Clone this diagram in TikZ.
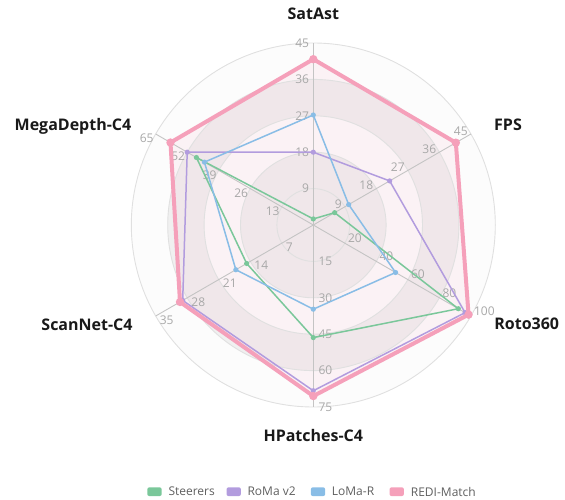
\documentclass[tikz,border=0pt]{standalone}
\usepackage{fontspec}
\setmainfont{Open Sans}
\definecolor{steercol}{RGB}{122,199,154}
\definecolor{romacol}{RGB}{178,156,222}
\definecolor{lomacol}{RGB}{137,189,230}
\definecolor{redicol}{RGB}{245,160,186}
\definecolor{bandlight}{RGB}{252,252,252}
\definecolor{banddark}{RGB}{240,240,240}
\definecolor{gridcol}{RGB}{224,224,224}
\definecolor{axiscol}{RGB}{196,196,196}
\definecolor{tickcol}{RGB}{168,168,168}
\definecolor{legtext}{RGB}{95,95,95}
\definecolor{namecol}{RGB}{25,25,25}
\tikzset{
  gridline/.style={draw=gridcol, line width=0.9pt},
  axisline/.style={draw=axiscol, line width=0.9pt},
  ticklabel/.style={inner sep=0pt, text=tickcol, font=\fontsize{12}{12}\selectfont},
  axisname/.style={inner sep=0pt, anchor=base, text=namecol, font=\fontsize{16}{16}\selectfont\bfseries},
  thinseries/.style={line width=1.5pt, line join=round},
  rediseries/.style={draw=redicol, line width=4pt, line join=round},
  legbox/.style={rounded corners=2pt, minimum width=14.4pt, minimum height=8.7pt, inner sep=0pt},
  legtxt/.style={inner sep=0pt, anchor=west, text=legtext, font=\fontsize{12}{12}\selectfont}
}
\begin{document}
\begin{tikzpicture}[x=1pt,y=1pt]
\useasboundingbox (0,0) rectangle (565,499);
\coordinate (C) at (313.3,274);
\begin{scope}[shift={(C)}]
  % split areas
  \fill[bandlight] (0,0) circle (182);
  \fill[banddark, even odd rule] (0,0) circle (145.6) (0,0) circle (109.2);
  \fill[banddark] (0,0) circle (72.8);
  % data points
  \coordinate (s1) at (90:{1.5/45*182});
  \coordinate (s2) at (30:{6.1/45*182});
  \coordinate (s3) at (-30:{92/100*182});
  \coordinate (s4) at (-90:{46.4/75*182});
  \coordinate (s5) at (210:{14.8/35*182});
  \coordinate (s6) at (150:{48.2/65*182});
  \coordinate (m1) at (90:{18/45*182});
  \coordinate (m2) at (30:{21.8/45*182});
  \coordinate (m3) at (-30:{96.3/100*182});
  \coordinate (m4) at (-90:{68.3/75*182});
  \coordinate (m5) at (210:{29.0/35*182});
  \coordinate (m6) at (150:{52/65*182});
  \coordinate (l1) at (90:{27.2/45*182});
  \coordinate (l2) at (30:{10.1/45*182});
  \coordinate (l3) at (-30:{52.2/100*182});
  \coordinate (l4) at (-90:{34.7/75*182});
  \coordinate (l5) at (210:{17.2/35*182});
  \coordinate (l6) at (150:{44.9/65*182});
  \coordinate (r1) at (90:{41/45*182});
  \coordinate (r2) at (30:{40.7/45*182});
  \coordinate (r3) at (-30:{98.5/100*182});
  \coordinate (r4) at (-90:{70.5/75*182});
  \coordinate (r5) at (210:{29.6/35*182});
  \coordinate (r6) at (150:{58.9/65*182});
  % REDI-Match area
  \fill[redicol, opacity=0.1] (r1)--(r2)--(r3)--(r4)--(r5)--(r6)--cycle;
  % grid
  \foreach \k in {1,...,5} \draw[gridline] (0,0) circle ({36.4*\k});
  \foreach \a in {90,30,-30,-90,210,150} \draw[axisline] (0,0) -- (\a:182);
  % tick labels
  \foreach \v [count=\k] in {9,18,27,36,45}
    \node[ticklabel, anchor=east, xshift=-4pt] (ta\k) at (90:{36.4*\k}) {\v};
  \foreach \v [count=\k] in {9,18,27,36,45}
    \node[ticklabel, anchor=east, xshift=-3pt, yshift=3pt] (tb\k) at (30:{36.4*\k}) {\v};
  \foreach \v [count=\k] in {20,40,60,80,100}
    \node[ticklabel, anchor=west, xshift=3pt, yshift=5pt] (tc\k) at (-30:{36.4*\k}) {\v};
  \foreach \v [count=\k] in {15,30,45,60,75}
    \node[ticklabel, anchor=west, xshift=5pt] (td\k) at (-90:{36.4*\k}) {\v};
  \foreach \v [count=\k] in {7,14,21,28,35}
    \node[ticklabel, anchor=west, xshift=4pt, yshift=-4pt] (te\k) at (210:{36.4*\k}) {\v};
  \foreach \v [count=\k] in {13,26,39,52,65}
    \node[ticklabel, anchor=east, xshift=-2pt, yshift=-4.5pt] (tf\k) at (150:{36.4*\k}) {\v};
  % series
  \draw[thinseries, draw=steercol] (s1)--(s2)--(s3)--(s4)--(s5)--(s6)--cycle;
  \foreach \p in {s1,s2,s3,s4,s5,s6} \fill[steercol] (\p) circle (2.6);
  \draw[thinseries, draw=romacol] (m1)--(m2)--(m3)--(m4)--(m5)--(m6)--cycle;
  \foreach \p in {m1,m2,m3,m4,m5,m6} \fill[romacol] (\p) circle (2.6);
  \draw[thinseries, draw=lomacol] (l1)--(l2)--(l3)--(l4)--(l5)--(l6)--cycle;
  \foreach \p in {l1,l2,l3,l4,l5,l6} \fill[lomacol] (\p) circle (2.6);
  \draw[rediseries] (r1)--(r2)--(r3)--(r4)--(r5)--(r6)--cycle;
  \foreach \p in {r1,r2,r3,r4,r5,r6} \fill[redicol] (\p) circle (4.2);
\end{scope}
% axis names
\node[axisname] (nsat) at (313.3,479) {SatAst};
\node[axisname] (nfps) at (508,368.3) {FPS};
\node[axisname] (nroto) at (526.7,169.7) {Roto360};
\node[axisname] (nhp) at (313.3,57.3) {HPatches-C4};
\node[axisname] (nscan) at (87,169) {ScanNet-C4};
\node[axisname] (nmega) at (73,368.3) {MegaDepth-C4};
% legend
\node[legbox, fill=steercol] (lg1) at (154.5,7.3) {};
\node[legtxt] (lt1) at (168.3,7.3) {Steerers};
\node[legbox, fill=romacol] (lg2) at (233.7,7.3) {};
\node[legtxt] (lt2) at (247.3,7.3) {RoMa v2};
\node[legbox, fill=lomacol] (lg3) at (318,7.3) {};
\node[legtxt] (lt3) at (331.7,7.3) {LoMa-R};
\node[legbox, fill=redicol] (lg4) at (396.7,7.3) {};
\node[legtxt] (lt4) at (410.7,7.3) {REDI-Match};
\end{tikzpicture}
\end{document}
